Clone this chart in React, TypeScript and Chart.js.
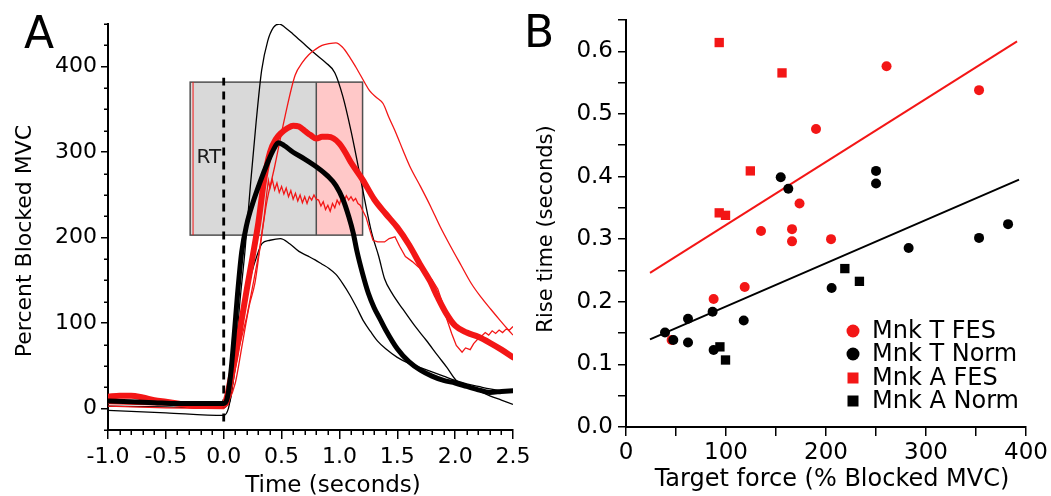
import React, { useEffect, useRef } from 'react';
import { Chart, registerables } from 'chart.js';

Chart.register(...registerables);

const FONT = "'DejaVu Sans', 'Liberation Sans', sans-serif";
const RED = '#f31616';
const BLACK = '#000000';
const GRAY_FILL = '#d9d9d9';
const PINK_FILL = '#ffc8c8';

// ---------------- Panel A : force traces ----------------
// Thick black: mean Norm
const tMeanNorm = [-1, -0.8, -0.6, -0.4, -0.2, 0, 0.03, 0.06, 0.09, 0.12, 0.155, 0.2, 0.25, 0.314, 0.38, 0.43, 0.472, 0.52, 0.6, 0.7, 0.8, 0.9, 0.97, 1.03, 1.08, 1.12, 1.15, 1.2, 1.25, 1.3, 1.35, 1.4, 1.5, 1.6, 1.7, 1.8, 1.9, 2.0, 2.1, 2.2, 2.3, 2.4, 2.5];
const vMeanNorm = [9, 8, 7, 6, 6, 6, 12, 40, 85, 135, 183, 216, 240, 265, 288, 303, 311, 308, 300, 292, 283, 272, 261, 245, 225, 205, 185, 158, 135, 118, 105, 92, 70, 55, 45, 38, 33, 30, 26, 22, 19, 20, 21];

// Thick red: mean FES
const tMeanFes = [-1, -0.9, -0.8, -0.7, -0.6, -0.5, -0.4, -0.3, -0.2, -0.1, 0, 0.03, 0.06, 0.1, 0.15, 0.2, 0.25, 0.3, 0.35, 0.4, 0.45, 0.5, 0.55, 0.6, 0.65, 0.7, 0.75, 0.8, 0.85, 0.9, 0.95, 1.0, 1.05, 1.1, 1.2, 1.3, 1.4, 1.5, 1.6, 1.7, 1.78, 1.85, 1.92, 2.0, 2.1, 2.2, 2.3, 2.4, 2.5];
const vMeanFes = [14, 15, 15, 13, 10, 8, 6, 4, 3, 3, 5, 15, 35, 60, 100, 140, 178, 218, 268, 300, 315, 323, 328, 331, 330, 325, 320, 316, 318, 318, 316, 310, 300, 288, 268, 245, 228, 212, 192, 168, 150, 130, 112, 97, 89, 84, 77, 69, 60];

// Thin black: upper Norm trace
const tNormHigh = [-1, -0.5, 0, 0.03, 0.06, 0.1, 0.14, 0.184, 0.23, 0.28, 0.328, 0.38, 0.43, 0.48, 0.53, 0.6, 0.7, 0.8, 0.88, 0.96, 1.03, 1.1, 1.16, 1.22, 1.28, 1.34, 1.39, 1.45, 1.55, 1.65, 1.75, 1.85, 1.93, 2.01, 2.1, 2.2, 2.3, 2.4, 2.5];
const vNormHigh = [3, 2, 1, 4, 12, 60, 125, 185, 260, 335, 396, 430, 446, 450, 446, 438, 426, 414, 405, 393, 365, 325, 285, 243, 205, 178, 152, 136, 116, 97, 80, 62, 48, 33, 27, 21, 15, 10, 5];

// Thin black: lower Norm trace
const tNormLow = [-1, -0.5, 0, 0.04, 0.08, 0.11, 0.15, 0.19, 0.24, 0.29, 0.33, 0.4, 0.49, 0.57, 0.65, 0.72, 0.79, 0.85, 0.91, 0.97, 1.03, 1.09, 1.15, 1.21, 1.27, 1.33, 1.4, 1.5, 1.6, 1.7, 1.8, 1.9, 2.0, 2.1, 2.2, 2.3, 2.4, 2.5];
const vNormLow = [-2, -5, -8, 0, 30, 58, 88, 125, 158, 180, 193, 197, 199, 193, 184, 179, 174, 169, 164, 157, 146, 133, 118, 102, 90, 79, 70, 60, 53, 48, 43, 38, 33, 29, 26, 23, 21, 20];

// Thin red: upper FES trace
const tFesHigh = [-1, -0.5, 0, 0.04, 0.1, 0.16, 0.22, 0.27, 0.31, 0.37, 0.44, 0.53, 0.617, 0.68, 0.735, 0.79, 0.85, 0.91, 0.97, 1.025, 1.09, 1.14, 1.22, 1.26, 1.32, 1.377, 1.43, 1.49, 1.55, 1.61, 1.7, 1.79, 1.87, 1.96, 2.05, 2.137, 2.22, 2.31, 2.39, 2.46, 2.5];
const vFesHigh = [6, 4, 2, 8, 30, 75, 120, 147, 185, 240, 283, 342, 390, 405, 414, 420, 425, 427, 428, 423, 411, 400, 381, 372, 364, 357, 340, 322, 302, 283, 260, 236, 213, 190, 168, 147, 131, 116, 103, 92, 86];

// Thin red: lower (noisy) FES trace
const tFesLow = [-1, -0.5, 0, 0.04, 0.08, 0.13, 0.2, 0.26, 0.31, 0.35, 0.37, 0.386, 0.40, 0.42, 0.44, 0.46, 0.48, 0.50, 0.52, 0.54, 0.56, 0.58, 0.60, 0.62, 0.64, 0.66, 0.68, 0.70, 0.72, 0.74, 0.76, 0.78, 0.80, 0.82, 0.84, 0.86, 0.88, 0.90, 0.92, 0.94, 0.96, 0.98, 1.00, 1.02, 1.04, 1.06, 1.08, 1.10, 1.12, 1.14, 1.16, 1.18, 1.20, 1.23, 1.26, 1.29, 1.33, 1.39, 1.43, 1.48, 1.52, 1.57, 1.63, 1.68, 1.74, 1.80, 1.85, 1.89, 1.93, 1.97, 2.01, 2.06, 2.09, 2.13, 2.16, 2.20, 2.23, 2.26, 2.29, 2.32, 2.35, 2.38, 2.41, 2.44, 2.47, 2.5];
const vFesLow = [3, 1, 0, 5, 30, 70, 108, 150, 186, 225, 250, 267, 258, 268, 256, 264, 253, 260, 251, 258, 248, 255, 245, 252, 243, 250, 241, 248, 240, 248, 244, 250, 245, 244, 237, 242, 233, 238, 231, 240, 235, 244, 239, 248, 243, 249, 244, 248, 243, 246, 240, 238, 232, 224, 210, 197, 195, 195, 199, 201, 190, 178, 172, 166, 160, 151, 140, 124, 104, 88, 74, 66, 71, 69, 76, 82, 85, 89, 86, 91, 88, 92, 89, 93, 92, 96];

// RT box (x: left edge, divider, right edge; y: bottom, top)
const boxX = [-0.29, 0.8, 1.2];
const boxY = [203, 382];
const rtMarkerX = -0.265;
const rtLabel = { x: -0.235, y: 294, text: 'RT' };
// Dashed reaction line
const dashT = [0, 0];
const dashV = [-15, 387];

const xMajorA = [-1, -0.5, 0, 0.5, 1, 1.5, 2, 2.5];
const xMinorA = [-0.9, -0.8, -0.7, -0.6, -0.4, -0.3, -0.2, -0.1, 0.1, 0.2, 0.3, 0.4, 0.6, 0.7, 0.8, 0.9, 1.1, 1.2, 1.3, 1.4, 1.6, 1.7, 1.8, 1.9, 2.1, 2.2, 2.3, 2.4];
const yMajorA = [0, 100, 200, 300, 400];
const yMinorA = [-25, 25, 50, 75, 125, 150, 175, 225, 250, 275, 325, 350, 375, 425, 450];

// ---------------- Panel B : rise time vs target force ----------------
const monkTFesX = [260.5, 353, 190, 173.5, 135, 166, 166, 205, 118.7, 87.6, 45.6];
const monkTFesY = [0.576, 0.538, 0.476, 0.357, 0.313, 0.316, 0.2965, 0.300, 0.2236, 0.2045, 0.139];
const monkTNormX = [154.7, 162.3, 250, 250, 282.6, 353, 382, 205.6, 117.7, 86.6, 62, 62, 47.3, 39, 87.6];
const monkTNormY = [0.399, 0.3805, 0.409, 0.389, 0.286, 0.302, 0.324, 0.222, 0.170, 0.184, 0.173, 0.135, 0.139, 0.151, 0.123];
const monkAFesX = [93.2, 156, 124.3, 93.2, 99.5];
const monkAFesY = [0.614, 0.5655, 0.409, 0.342, 0.338];
const monkANormX = [218.8, 233.4, 93.9, 99.5];
const monkANormY = [0.253, 0.2326, 0.128, 0.107];
const fesFitX = [24, 391];
const fesFitY = [0.246, 0.616];
const normFitX = [24, 393];
const normFitY = [0.140, 0.395];

const xTicksB = [0, 50, 100, 150, 200, 250, 300, 350, 400];
const yTicksB = [0, 0.05, 0.1, 0.15, 0.2, 0.25, 0.3, 0.35, 0.4, 0.45, 0.5, 0.55, 0.6, 0.65];

const legendB = [
  { label: 'Mnk T FES', color: RED, shape: 'circle' },
  { label: 'Mnk T Norm', color: BLACK, shape: 'circle' },
  { label: 'Mnk A FES', color: RED, shape: 'square' },
  { label: 'Mnk A Norm', color: BLACK, shape: 'square' },
];

const pts = (xs: number[], ys: number[]) => xs.map((x, i) => ({ x, y: ys[i] }));

function drawRotated(ctx: CanvasRenderingContext2D, text: string, x: number, y: number, font: string) {
  ctx.save();
  ctx.translate(x, y);
  ctx.rotate(-Math.PI / 2);
  ctx.font = font;
  ctx.fillStyle = BLACK;
  ctx.textAlign = 'center';
  ctx.textBaseline = 'middle';
  ctx.fillText(text, 0, 0);
  ctx.restore();
}

const panelAPlugin = {
  id: 'panelADecor',
  beforeDatasetsDraw(chart: any) {
    const { ctx, scales } = chart;
    const x = scales.x;
    const y = scales.y;
    const x0 = x.getPixelForValue(boxX[0]);
    const x1 = x.getPixelForValue(boxX[1]);
    const x2 = x.getPixelForValue(boxX[2]);
    const yB = y.getPixelForValue(boxY[0]);
    const yT = y.getPixelForValue(boxY[1]);
    ctx.save();
    ctx.fillStyle = GRAY_FILL;
    ctx.fillRect(x0, yT, x1 - x0, yB - yT);
    ctx.fillStyle = PINK_FILL;
    ctx.fillRect(x1, yT, x2 - x1, yB - yT);
    ctx.strokeStyle = '#505050';
    ctx.lineWidth = 1.5;
    ctx.strokeRect(x0, yT, x2 - x0, yB - yT);
    ctx.beginPath();
    ctx.moveTo(x1, yT);
    ctx.lineTo(x1, yB);
    ctx.stroke();
    const xr = x.getPixelForValue(rtMarkerX);
    ctx.strokeStyle = RED;
    ctx.lineWidth = 1;
    ctx.beginPath();
    ctx.moveTo(xr, yT);
    ctx.lineTo(xr, yB);
    ctx.stroke();
    ctx.fillStyle = '#1a1a1a';
    ctx.font = `20px ${FONT}`;
    ctx.textAlign = 'left';
    ctx.textBaseline = 'middle';
    ctx.fillText(rtLabel.text, x.getPixelForValue(rtLabel.x), y.getPixelForValue(rtLabel.y));
    ctx.restore();
  },
  afterDraw(chart: any) {
    const { ctx, scales, chartArea } = chart;
    const x = scales.x;
    const y = scales.y;
    ctx.save();
    ctx.strokeStyle = BLACK;
    ctx.lineWidth = 1.5;
    ctx.beginPath();
    xMinorA.forEach((v) => {
      const px = Math.round(x.getPixelForValue(v)) + 0.25;
      ctx.moveTo(px, chartArea.bottom);
      ctx.lineTo(px, chartArea.bottom + 5);
    });
    yMinorA.forEach((v) => {
      const py = Math.round(y.getPixelForValue(v)) + 0.25;
      ctx.moveTo(chartArea.left - 4, py);
      ctx.lineTo(chartArea.left, py);
    });
    ctx.stroke();
    // axis titles
    ctx.fillStyle = BLACK;
    ctx.font = `23px ${FONT}`;
    ctx.textAlign = 'center';
    ctx.textBaseline = 'alphabetic';
    ctx.fillText('Time (seconds)', 333, 492);
    drawRotated(ctx, 'Percent Blocked MVC', 25, 241, `22px ${FONT}`);
    // panel letter
    ctx.font = `44px ${FONT}`;
    ctx.textAlign = 'left';
    ctx.fillText('A', 24, 48);
    ctx.restore();
  },
};

const panelBPlugin = {
  id: 'panelBDecor',
  afterDraw(chart: any) {
    const { ctx } = chart;
    ctx.save();
    ctx.fillStyle = BLACK;
    ctx.font = `24px ${FONT}`;
    ctx.textAlign = 'center';
    ctx.textBaseline = 'alphabetic';
    ctx.fillText('Target force (% Blocked MVC)', 312, 486);
    drawRotated(ctx, 'Rise time (seconds)', 27, 229, `21px ${FONT}`);
    ctx.font = `44px ${FONT}`;
    ctx.textAlign = 'left';
    ctx.fillText('B', 4, 47);
    // legend
    const rows = [331, 354, 378, 401];
    const mx = 333;
    legendB.forEach((item, i) => {
      const cy = rows[i];
      ctx.fillStyle = item.color;
      if (item.shape === 'circle') {
        ctx.beginPath();
        ctx.arc(mx, cy, 6.5, 0, Math.PI * 2);
        ctx.fill();
      } else {
        ctx.fillRect(mx - 5.5, cy - 5.5, 11, 11);
      }
      ctx.fillStyle = BLACK;
      ctx.font = `24px ${FONT}`;
      ctx.textAlign = 'left';
      ctx.textBaseline = 'middle';
      ctx.fillText(item.label, 352, cy + 1);
    });
    ctx.restore();
  },
};

const axisCommon = {
  grid: { display: true, drawOnChartArea: false, drawTicks: true, color: BLACK, lineWidth: 1.5 },
  border: { display: true, color: BLACK, width: 2 },
};

export default function App() {
  const refA = useRef<HTMLCanvasElement>(null);
  const refB = useRef<HTMLCanvasElement>(null);

  useEffect(() => {
    const thin = (data: any, color: string, order: number, smooth = true) => ({
      data,
      borderColor: color,
      borderWidth: 1.3,
      pointRadius: 0,
      fill: false,
      cubicInterpolationMode: smooth ? 'monotone' : 'default',
      tension: smooth ? 0.4 : 0,
      order,
    });
    const chartA = new Chart(refA.current as HTMLCanvasElement, {
      type: 'line',
      data: {
        datasets: [
          {
            label: 'Reaction',
            data: pts(dashT, dashV),
            borderColor: BLACK,
            borderWidth: 2.8,
            borderDash: [8, 6],
            pointRadius: 0,
            order: 10,
          },
          { label: 'Norm high', ...thin(pts(tNormHigh, vNormHigh), BLACK, 9) },
          { label: 'Norm low', ...thin(pts(tNormLow, vNormLow), BLACK, 8) },
          { label: 'FES high', ...thin(pts(tFesHigh, vFesHigh), RED, 7) },
          { label: 'FES low', ...thin(pts(tFesLow, vFesLow), RED, 6, false) },
          {
            label: 'FES mean',
            data: pts(tMeanFes, vMeanFes),
            borderColor: RED,
            borderWidth: 6,
            pointRadius: 0,
            cubicInterpolationMode: 'monotone',
            borderCapStyle: 'round',
            borderJoinStyle: 'round',
            order: 5,
          },
          {
            label: 'Norm mean',
            data: pts(tMeanNorm, vMeanNorm),
            borderColor: BLACK,
            borderWidth: 5,
            pointRadius: 0,
            cubicInterpolationMode: 'monotone',
            borderCapStyle: 'round',
            borderJoinStyle: 'round',
            order: 4,
          },
        ] as any,
      },
      options: {
        animation: false,
        responsive: false,
        layout: { padding: { left: 0, top: 24, right: 32, bottom: 0 } },
        plugins: { legend: { display: false }, tooltip: { enabled: false } },
        scales: {
          x: {
            type: 'linear',
            min: -1,
            max: 2.5,
            ...axisCommon,
            grid: { ...axisCommon.grid, tickLength: 9 },
            afterBuildTicks: (s: any) => {
              s.ticks = xMajorA.map((v) => ({ value: v }));
            },
            afterFit: (s: any) => {
              s.height = 66;
            },
            ticks: {
              color: BLACK,
              font: { family: FONT, size: 22 },
              padding: 5,
              maxRotation: 0,
              autoSkip: false,
              callback: (v: any) => Number(v).toFixed(1),
            },
          },
          y: {
            type: 'linear',
            min: -25,
            max: 450,
            ...axisCommon,
            grid: { ...axisCommon.grid, tickLength: 7 },
            afterBuildTicks: (s: any) => {
              s.ticks = yMajorA.map((v) => ({ value: v }));
            },
            afterFit: (s: any) => {
              s.width = 108;
            },
            ticks: {
              color: BLACK,
              font: { family: FONT, size: 22 },
              padding: 4,
              autoSkip: false,
              callback: (v: any) => String(v),
            },
          },
        },
      } as any,
      plugins: [panelAPlugin],
    });

    const marker = (label: string, xs: number[], ys: number[], color: string, style: string, r: number, order: number) => ({
      type: 'scatter',
      label,
      data: pts(xs, ys),
      backgroundColor: color,
      borderColor: color,
      borderWidth: 0,
      pointStyle: style,
      pointRadius: r,
      showLine: false,
      order,
    });

    const chartB = new Chart(refB.current as HTMLCanvasElement, {
      type: 'scatter',
      data: {
        datasets: [
          {
            type: 'line',
            label: 'FES fit',
            data: pts(fesFitX, fesFitY),
            borderColor: RED,
            borderWidth: 2,
            pointRadius: 0,
            order: 10,
          },
          {
            type: 'line',
            label: 'Norm fit',
            data: pts(normFitX, normFitY),
            borderColor: BLACK,
            borderWidth: 2,
            pointRadius: 0,
            order: 9,
          },
          marker('Mnk T FES', monkTFesX, monkTFesY, RED, 'circle', 5, 4),
          marker('Mnk A FES', monkAFesX, monkAFesY, RED, 'rect', 6.6, 3),
          marker('Mnk T Norm', monkTNormX, monkTNormY, BLACK, 'circle', 5, 2),
          marker('Mnk A Norm', monkANormX, monkANormY, BLACK, 'rect', 6.6, 1),
        ] as any,
      },
      options: {
        animation: false,
        responsive: false,
        layout: { padding: { left: 0, top: 20, right: 22, bottom: 0 } },
        plugins: { legend: { display: false }, tooltip: { enabled: false } },
        scales: {
          x: {
            type: 'linear',
            min: 0,
            max: 400,
            ...axisCommon,
            grid: { ...axisCommon.grid, tickLength: 9 },
            afterBuildTicks: (s: any) => {
              s.ticks = xTicksB.map((v) => ({ value: v }));
            },
            afterFit: (s: any) => {
              s.height = 69;
            },
            ticks: {
              color: BLACK,
              font: { family: FONT, size: 23 },
              padding: 3,
              maxRotation: 0,
              autoSkip: false,
              callback: (v: any) => (Number(v) % 100 === 0 ? String(v) : ''),
            },
          },
          y: {
            type: 'linear',
            min: 0,
            max: 0.65,
            ...axisCommon,
            grid: { ...axisCommon.grid, tickLength: 8 },
            afterBuildTicks: (s: any) => {
              s.ticks = yTicksB.map((v) => ({ value: v }));
            },
            afterFit: (s: any) => {
              s.width = 106;
            },
            ticks: {
              color: BLACK,
              font: { family: FONT, size: 23 },
              padding: 5,
              autoSkip: false,
              callback: (v: any) => {
                const n = Number(v) * 10;
                return Math.abs(n - Math.round(n)) < 1e-6 ? Number(v).toFixed(1) : '';
              },
            },
          },
        },
      } as any,
      plugins: [panelBPlugin],
    });

    return () => {
      chartA.destroy();
      chartB.destroy();
    };
  }, []);

  return (
    <div style={{ position: 'absolute', left: 0, top: 0, width: 1051, height: 496, background: '#fff', overflow: 'hidden' }}>
      <canvas ref={refA} width={545} height={496} style={{ position: 'absolute', left: 0, top: 0 }} />
      <canvas ref={refB} width={531} height={496} style={{ position: 'absolute', left: 520, top: 0 }} />
    </div>
  );
}
